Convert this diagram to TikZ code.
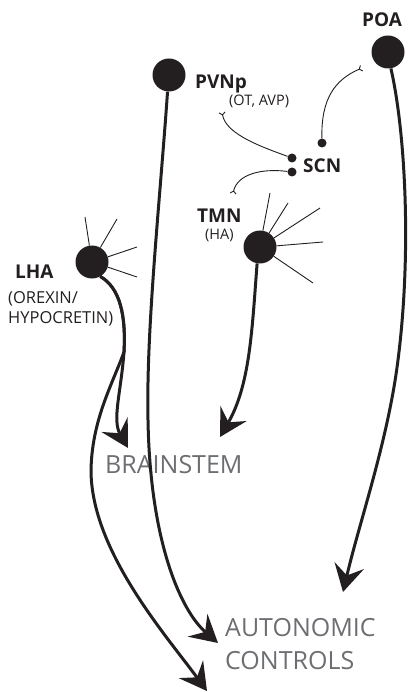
\documentclass[tikz,border=0pt]{standalone}
\usepackage{fontspec}
\setmainfont{Open Sans}
\usetikzlibrary{arrows.meta}
\definecolor{ink}{HTML}{231F20}
\definecolor{txtgray}{HTML}{6D6E71}
\begin{document}
\begin{tikzpicture}[x=1pt,y=-1pt,
  cell/.style={circle,fill=ink,draw=none,minimum size=33pt,inner sep=0pt},
  dot/.style={circle,fill=ink,draw=none,minimum size=9pt,inner sep=0pt},
  spine/.style={draw=ink,line width=0.9pt},
  axon/.style={draw=ink,line width=3pt,-{Stealth[length=27pt,width=30pt,inset=10pt]}},
  syn/.style={draw=ink,line width=0.9pt,-{Straight Barb[reversed,length=2.5pt,width=6pt]}},
  lbl/.style={anchor=base west,inner sep=0pt,text=ink,font=\fontsize{19}{21}\selectfont\bfseries},
  sub/.style={anchor=base west,inner sep=0pt,text=ink,font=\fontsize{14.5}{16}\selectfont},
  subb/.style={anchor=base west,inner sep=0pt,text=ink,font=\fontsize{16.5}{19}\selectfont},
  target/.style={anchor=base west,inner sep=0pt,text=txtgray,font=\fontsize{25}{28}\selectfont}]
\path[use as bounding box] (0,0) rectangle (411,692);

% target labels
\node[target] (bs) at (105,473) {BRAINSTEM};
\node[target] (ac1) at (225,636) {AUTONOMIC};
\node[target] (ac2) at (225,669) {CONTROLS};

% cells
\node[cell] (poa) at (388,52) {};
\node[cell] (pvn) at (169,75) {};
\node[cell] (lha) at (92,262) {};
\node[cell] (tmn) at (260,247) {};

% SCN dots
\node[dot] (scnA) at (292,158) {};
\node[dot] (scnB) at (292,172) {};
\node[dot] (scnC) at (322,143) {};

% labels
\node[lbl] (poaL) at (362,27) {POA};
\node[lbl] (pvnL) at (195,89) {PVNp};
\node[sub] (pvnS) at (229,106) {(OT, AVP)};
\node[lbl] (scnL) at (303,173) {SCN};
\node[lbl] (tmnL) at (197,223) {TMN};
\node[sub] (tmnS) at (205,240) {(HA)};
\node[lbl] (lhaL) at (15,278) {LHA};
\node[subb] (lhaS1) at (8,303) {(OREXIN/};
\node[subb] (lhaS2) at (8,323) {HYPOCRETIN)};

% spines
\draw[spine] (lha.99) -- (85,217);
\draw[spine] (lha.60) -- (117,219);
\draw[spine] (lha.18) -- (137,247);
\draw[spine] (lha.-18) -- (137,277);
\draw[spine] (tmn.80) -- (270,193);
\draw[spine] (tmn.57) -- (288,203);
\draw[spine] (tmn.33) -- (320,208);
\draw[spine] (tmn.4) -- (323,242);
\draw[spine] (tmn.-34) -- (313,283);

% tips
\coordinate (bsTip1) at (128,448);
\coordinate (bsTip2) at (220,437);
\coordinate (acTip1) at (218,643);
\coordinate (acTip2) at (207,691);
\coordinate (acTip3) at (343,592);
\coordinate (poaSyn) at (362,68);
\coordinate (pvnSyn) at (222,112);
\coordinate (tmnSyn) at (233,194);

% axons
\draw[axon] (lha.-60) .. controls (120,288) and (126,315) .. (124,352) .. controls (121,392) and (112,420) .. (bsTip1);
\draw[axon] (lha.-60) .. controls (120,288) and (126,315) .. (124,352) .. controls (112,385) and (92,420) .. (91,470) .. controls (91,550) and (165,634) .. (acTip2);
\draw[axon] (pvn.-95) .. controls (160,200) and (146,330) .. (148,420) .. controls (150,540) and (180,610) .. (acTip1);
\draw[axon] (tmn.-100) .. controls (252,330) and (250,385) .. (bsTip2);
\draw[axon] (poa.-80) .. controls (405,130) and (412,250) .. (398,360) .. controls (388,440) and (360,520) .. (acTip3);

% SCN projections
\draw[syn] (scnC) .. controls (321,100) and (334,80) .. (poaSyn);
\draw[syn] (scnA) .. controls (265,148) and (226,135) .. (pvnSyn);
\draw[syn] (scnB) .. controls (260,168) and (237,175) .. (tmnSyn);
\end{tikzpicture}
\end{document}
